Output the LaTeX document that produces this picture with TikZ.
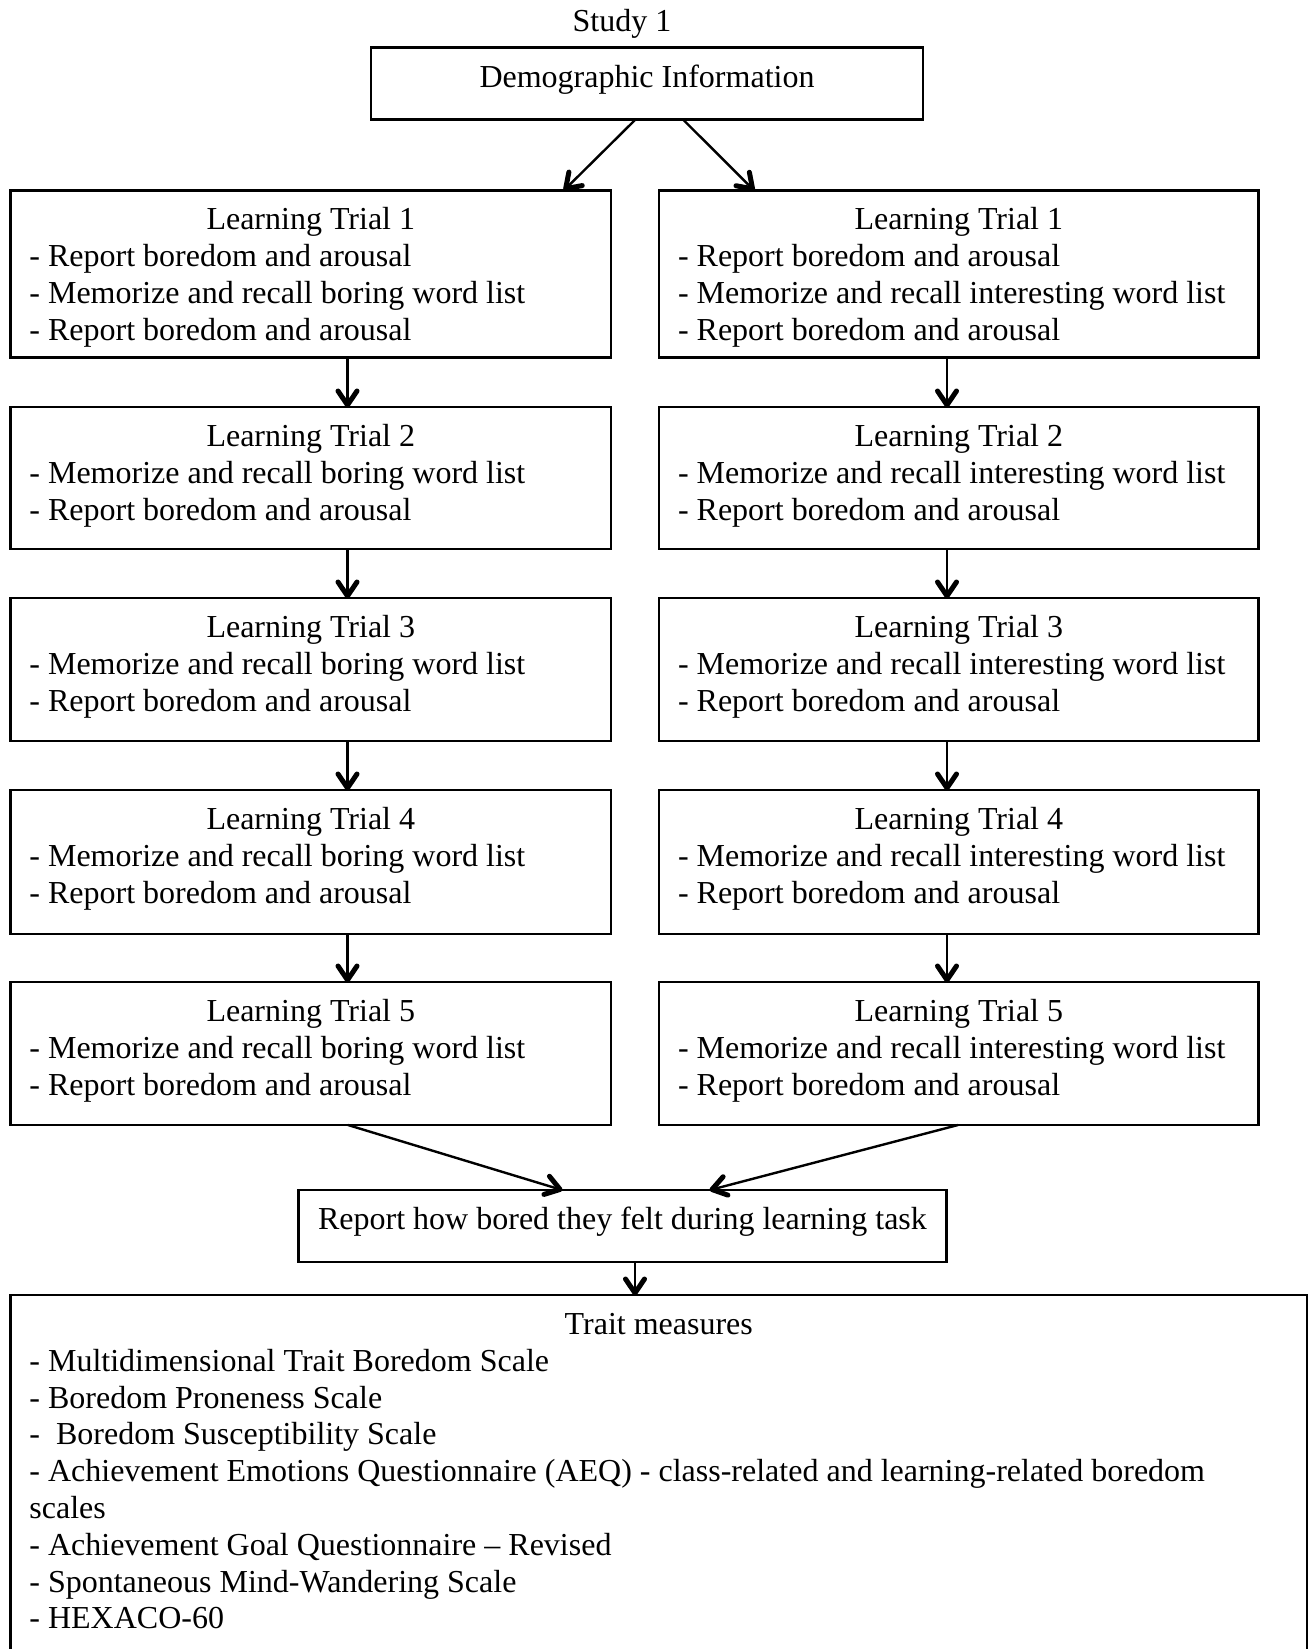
\documentclass[tikz,border=0pt]{standalone}
\usepackage{fontspec}
\setmainfont{Liberation Serif}
\usetikzlibrary{decorations.markings}
\begin{document}
\begin{tikzpicture}[x=1pt,y=-1pt,
  box/.style={draw, line width=2.6pt, rectangle, anchor=north west, inner sep=0pt, outer sep=0pt},
  txt/.style={inner sep=0pt, outer sep=0pt, font=\fontsize{32}{36.8}\selectfont},
  ltxt/.style={txt, anchor=base west},
  ctxt/.style={txt, anchor=base},
  arr/.style={line width=2.4pt, postaction={decorate},
    decoration={markings, mark=at position 1 with {
      \draw[line width=5pt, line cap=round, line join=round]
        (-16pt,-9.5pt) -- (-2pt,0pt) -- (-16pt,9.5pt);}}}]
\useasboundingbox (0,0) rectangle (1309,1649);
% title
\node[ctxt] (study) at (622,31) {Study 1};
% demographic
\node[box, minimum width=552pt, minimum height=72pt] (demo) at (371,47.5) {};
\node[ctxt] (demot) at (647,87) {Demographic Information};
% trial boxes
\foreach \i/\top/\bot in {1/190.3/357.5, 2/407/549, 3/598/741, 4/790/934, 5/982/1125} {
  \node[box, minimum width=600.5pt, minimum height={\bot-\top}] (L\i) at (10.5,\top) {};
  \node[box, minimum width=599.5pt, minimum height={\bot-\top}] (R\i) at (659,\top) {};
  \node[ctxt] (L\i-t0) at (310.8,\top+39.5) {Learning Trial \i};
  \node[ctxt] (R\i-t0) at (958.8,\top+39.5) {Learning Trial \i};
}
% box 1 lines
\node[ltxt] (L1-t1) at (29.4,266.6) {- Report boredom and arousal};
\node[ltxt] (L1-t2) at (29.4,303.4) {- Memorize and recall boring word list};
\node[ltxt] (L1-t3) at (29.4,340.2) {- Report boredom and arousal};
\node[ltxt] (R1-t1) at (678,266.6) {- Report boredom and arousal};
\node[ltxt] (R1-t2) at (678,303.4) {- Memorize and recall interesting word list};
\node[ltxt] (R1-t3) at (678,340.2) {- Report boredom and arousal};
\foreach \i/\top in {2/407, 3/598, 4/790, 5/982} {
  \node[ltxt] (L\i-t1) at (29.4,\top+76.3) {- Memorize and recall boring word list};
  \node[ltxt] (L\i-t2) at (29.4,\top+113.1) {- Report boredom and arousal};
  \node[ltxt] (R\i-t1) at (678,\top+76.3) {- Memorize and recall interesting word list};
  \node[ltxt] (R\i-t2) at (678,\top+113.1) {- Report boredom and arousal};
}
% report box
\node[box, minimum width=647.7pt, minimum height=72pt] (rep) at (298.6,1190) {};
\node[ctxt] (rept) at (622.5,1229.5) {Report how bored they felt during learning task};
% trait box
\node[box, minimum width=1296.5pt, minimum height=400pt] (trait) at (10.5,1295) {};
\node[ctxt] (trait-t0) at (658.8,1334.5) {Trait measures};
\foreach \k/\s in {1/{- Multidimensional Trait Boredom Scale},
                   2/{- Boredom Proneness Scale},
                   3/{- \ Boredom Susceptibility Scale},
                   4/{- Achievement Emotions Questionnaire (AEQ) - class-related and learning-related boredom},
                   5/{scales},
                   6/{- Achievement Goal Questionnaire – Revised},
                   7/{- Spontaneous Mind-Wandering Scale},
                   8/{- HEXACO-60}} {
  \node[ltxt] (trait-t\k) at (29.4,1334.5+36.8*\k) {\s};
}
% connector x positions
\coordinate (cl) at (347.5,0);
\coordinate (cr) at (947,0);
\coordinate (dl1) at (635.5,0);
\coordinate (dl2) at (564,0);
\coordinate (dr1) at (683,0);
\coordinate (dr2) at (754,0);
\coordinate (bl1) at (348,0);
\coordinate (bl2) at (562,0);
\coordinate (br1) at (958,0);
\coordinate (br2) at (710,0);
\coordinate (ct) at (635,0);
% connectors
\draw[arr] (demo.south -| dl1) -- (L1.north -| dl2);
\draw[arr] (demo.south -| dr1) -- (R1.north -| dr2);
\foreach \i [evaluate=\i as \j using int(\i+1)] in {1,...,4} {
  \draw[arr] (L\i.south -| cl) -- (L\j.north -| cl);
  \draw[arr] (R\i.south -| cr) -- (R\j.north -| cr);
}
\draw[arr] (L5.south -| bl1) -- (rep.north -| bl2);
\draw[arr] (R5.south -| br1) -- (rep.north -| br2);
\draw[arr] (rep.south -| ct) -- (trait.north -| ct);
\end{tikzpicture}
\end{document}
